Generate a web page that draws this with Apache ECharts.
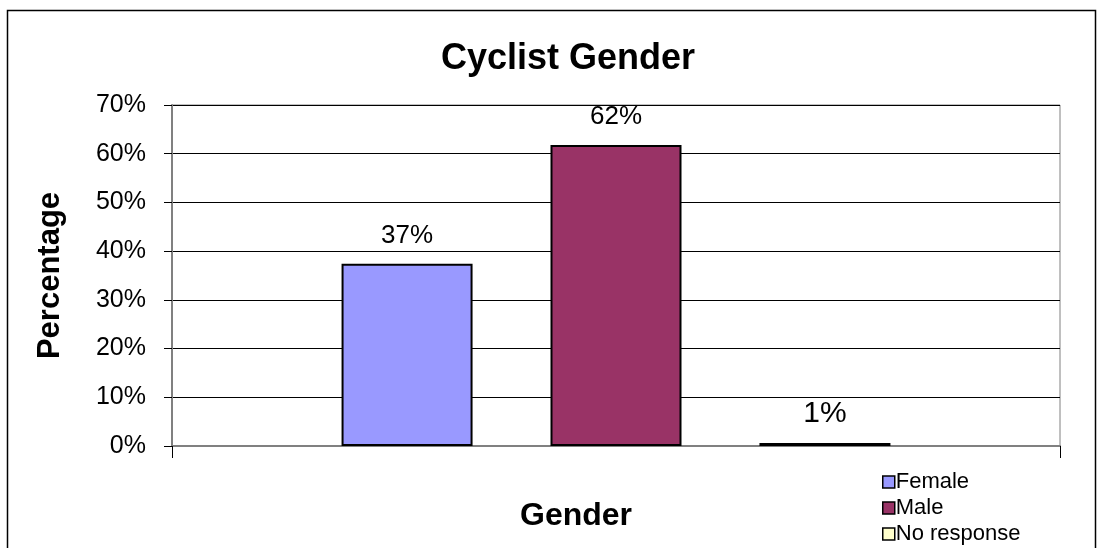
<!DOCTYPE html>
<html>
<head>
<meta charset="utf-8">
<script src="https://cdn.jsdelivr.net/npm/echarts@6/dist/echarts.min.js"></script>
<style>
  html, body { margin: 0; padding: 0; background: #fff; }
  #chart { width: 1099px; height: 548px; }
</style>
</head>
<body>
<div id="chart"></div>
<script>
// values (percent)
const categories = ['Gender']
const seriesNames = ['Female', 'Male', 'No response']
const femaleValues = [37.4]
const maleValues = [61.8]
const noResponseValues = [0.6]
const seriesColors = ['#9999FF', '#993366', '#FFFFCC']

const font = '"Liberation Sans", Arial, sans-serif'
const myChart = echarts.init(document.getElementById('chart'))

const createSeries = () => {
  const values = [femaleValues, maleValues, noResponseValues]
  return seriesNames.map((name, i) => ({
    name,
    type: 'bar',
    data: values[i],
    barWidth: 131,
    barGap: '59.5%',
    itemStyle: {
      color: seriesColors[i],
      borderColor: '#000',
      borderWidth: 2
    },
    label: {
      show: true,
      position: 'top',
      distance: i === 2 ? 14 : 15,
      color: '#000',
      fontFamily: font,
      fontSize: i === 2 ? 30 : 26,
      formatter: (p) => Math.round(p.value) + '%'
    }
  }))
}

const option = {
  animation: false,
  title: {
    text: 'Cyclist Gender',
    left: 563,
    top: 36,
    textAlign: 'center',
    textStyle: { fontFamily: font, fontSize: 36, fontWeight: 'bold', color: '#000' }
  },
  legend: {
    orient: 'vertical',
    left: 882,
    top: 471,
    padding: 0,
    itemWidth: 12,
    itemHeight: 12,
    itemGap: 4,
    icon: 'rect',
    itemStyle: { borderColor: '#000', borderWidth: 1.5 },
    textStyle: { fontFamily: font, fontSize: 22, lineHeight: 20, color: '#000', padding: [0, 0, 0, -4] },
    data: seriesNames
  },
  grid: {
    left: 172,
    right: 39,
    top: 105,
    bottom: 102,
    show: true,
    borderColor: '#808080',
    borderWidth: 1
  },
  xAxis: {
    type: 'category',
    data: categories,
    name: 'Gender',
    nameLocation: 'middle',
    nameGap: 54,
    nameTextStyle: { fontFamily: font, fontSize: 32, fontWeight: 'bold', color: '#000', padding: [0, 0, 0, -80] },
    axisLine: { lineStyle: { color: '#808080', width: 2 } },
    axisTick: { show: true, length: 12, lineStyle: { color: '#000' } },
    axisLabel: { show: false }
  },
  yAxis: {
    type: 'value',
    min: 0,
    max: 70,
    interval: 10,
    name: 'Percentage',
    nameLocation: 'middle',
    nameGap: 106,
    nameTextStyle: { fontFamily: font, fontSize: 31, fontWeight: 'bold', color: '#000' },
    axisLine: { show: true, lineStyle: { color: '#808080', width: 2 } },
    axisTick: { show: true, length: 8, lineStyle: { color: '#000' } },
    axisLabel: { formatter: '{value}%', fontFamily: font, fontSize: 25, color: '#000', margin: 26 },
    splitLine: { lineStyle: { color: '#000', width: 1 } }
  },
  graphic: [{
    type: 'rect',
    shape: { x: 7.5, y: 10.5, width: 1088, height: 560 },
    style: { fill: 'none', stroke: '#000', lineWidth: 1.5 },
    silent: true
  }],
  series: createSeries()
}

myChart.setOption(option)
</script>
</body>
</html>
